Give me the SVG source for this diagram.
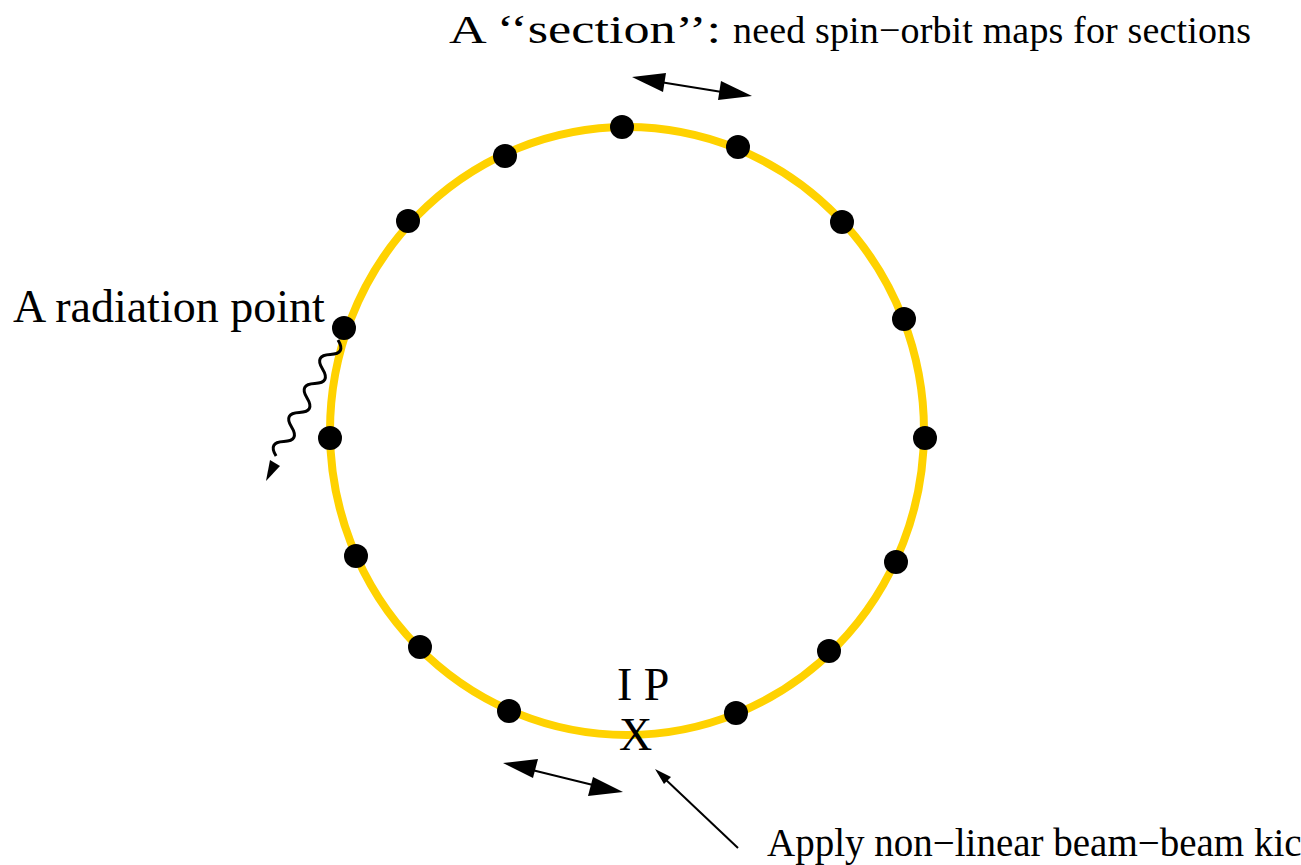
<svg xmlns="http://www.w3.org/2000/svg" width="1301" height="865" viewBox="0 0 1301 865">
<style>
.t{font-family:"Liberation Serif","Times New Roman",Times,serif;fill:#000}
.ring{fill:none;stroke:#FFD200;stroke-width:8}
.dot{fill:#000}
.ln{stroke:#000;stroke-width:2;fill:none}
.wave{stroke:#000;stroke-width:3;fill:none}
.hd{fill:#000}
</style>
<rect width="1301" height="865" fill="#fff"/>
<g id="ring">
<ellipse class="ring" cx="627" cy="431" rx="297" ry="304"/>
</g>
<g id="points">
<circle class="dot" cx="622" cy="127" r="12"/>
<circle class="dot" cx="738" cy="147" r="12"/>
<circle class="dot" cx="842" cy="222" r="12"/>
<circle class="dot" cx="904" cy="319" r="12"/>
<circle class="dot" cx="925" cy="438" r="12"/>
<circle class="dot" cx="896" cy="562" r="12"/>
<circle class="dot" cx="829" cy="651" r="12"/>
<circle class="dot" cx="736" cy="713" r="12"/>
<circle class="dot" cx="509" cy="711" r="12"/>
<circle class="dot" cx="420" cy="647" r="12"/>
<circle class="dot" cx="356" cy="556" r="12"/>
<circle class="dot" cx="330" cy="438" r="12"/>
<circle class="dot" cx="344" cy="328" r="12"/>
<circle class="dot" cx="408" cy="221" r="12"/>
<circle class="dot" cx="505" cy="156" r="12"/>
</g>
<g id="connectors">
<line class="ln" x1="660" y1="82" x2="722" y2="92"/>
<polygon class="hd" points="632,77 666,73 663,92"/>
<polygon class="hd" points="752,96 718,100 721,81"/>
<line class="ln" x1="532" y1="770" x2="593" y2="785"/>
<polygon class="hd" points="503,763 538,759 533,778"/>
<polygon class="hd" points="623,792 588,796 593,777"/>
<line class="ln" x1="738" y1="848" x2="664" y2="778"/>
<polygon class="hd" points="655,769 671,777 664,784"/>
<path class="wave" d="M338,340 Q346.48,353.84 330.26,354.5 T322.52,369 T314.78,383.5 T307.04,398 T299.3,412.5 T291.56,427 T283.82,441.5 T276.08,456"/>
<polygon class="hd" points="266,481 270,460 280,466"/>
</g>
<g id="labels">
<text class="t" x="449" y="43" font-size="40" textLength="272" lengthAdjust="spacingAndGlyphs">A ‘‘section’’:</text>
<text class="t" x="733" y="43" font-size="38" textLength="518" lengthAdjust="spacing">need spin−orbit maps for sections</text>
<text class="t" x="13" y="322" font-size="46">A radiation point</text>
<text class="t" x="617" y="700" font-size="46">I P</text>
<text class="t" x="619" y="750" font-size="46">X</text>
<text class="t" x="767" y="856" font-size="39">Apply non−linear beam−beam kic</text>
</g>
</svg>
